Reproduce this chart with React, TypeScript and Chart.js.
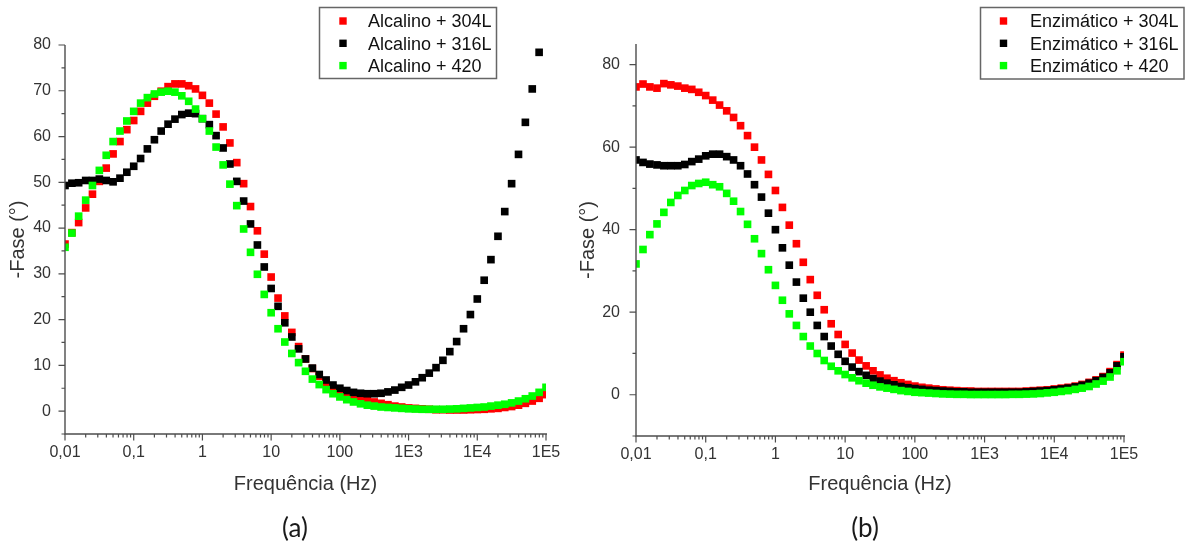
import React, { useEffect, useRef } from 'react';
import { Chart, registerables } from 'chart.js';

Chart.register(...registerables);

// ---------- data ----------
const FREQ_HZ = [
  0.01, 0.0126, 0.0158, 0.02, 0.0251, 0.0316, 0.0398, 0.0501, 0.0631, 0.0794,
  0.1, 0.126, 0.158, 0.2, 0.251, 0.316, 0.398, 0.501, 0.631, 0.794,
  1, 1.26, 1.58, 2, 2.51, 3.16, 3.98, 5.01, 6.31, 7.94,
  10, 12.6, 15.8, 20, 25.1, 31.6, 39.8, 50.1, 63.1, 79.4,
  100, 126, 158, 200, 251, 316, 398, 501, 631, 794,
  1000, 1260, 1580, 2000, 2510, 3160, 3980, 5010, 6310, 7940,
  10000, 12600, 15800, 20000, 25100, 31600, 39800, 50100, 63100, 79400,
  100000,
];

const X_TICK_VALUES = [0.01, 0.1, 1, 10, 100, 1000, 10000, 100000];
const X_TICK_LABELS = ['0,01', '0,1', '1', '10', '100', '1E3', '1E4', '1E5'];
const Y_TICKS_A = [0, 10, 20, 30, 40, 50, 60, 70, 80];
const Y_TICKS_B = [0, 20, 40, 60, 80];

// (a) Alcalino
const ALC_304L = [
  36.5, 39.0, 41.2, 44.4, 47.4, 50.2, 53.1, 56.2, 58.9, 61.5,
  63.5, 65.5, 67.3, 68.8, 69.9, 70.9, 71.5, 71.5, 71.1, 70.4,
  69.0, 67.3, 64.9, 62.1, 58.6, 54.3, 49.7, 44.7, 39.4, 34.3,
  29.3, 24.7, 20.8, 17.2, 14.1, 11.4, 9.3, 7.6, 6.2, 5.1,
  4.3, 3.7, 3.2, 2.8, 2.4, 2.0, 1.7, 1.4, 1.1, 0.9,
  0.7, 0.6, 0.5, 0.4, 0.3, 0.3, 0.25, 0.25, 0.25, 0.3,
  0.35, 0.4, 0.5, 0.6, 0.8, 1.0, 1.3, 1.7, 2.2, 2.8,
  3.6,
];
const ALC_316L = [
  49.3, 49.8, 49.9, 50.4, 50.4, 50.7, 50.4, 50.1, 50.9, 52.2,
  53.5, 55.2, 57.3, 59.3, 61.2, 62.7, 63.8, 64.8, 65.1, 65.0,
  63.9, 62.6, 60.2, 57.5, 54.0, 50.2, 45.9, 40.9, 36.3, 31.5,
  26.8, 22.9, 19.3, 16.2, 13.6, 11.4, 9.4, 8.0, 6.8, 5.7,
  5.0, 4.5, 4.1, 3.9, 3.8, 3.8, 3.9, 4.2, 4.6, 5.2,
  5.7, 6.4, 7.3, 8.3, 9.5, 11.1, 13.0, 15.2, 18.0, 21.1,
  24.5, 28.6, 33.1, 38.2, 43.6, 49.7, 56.1, 63.1, 70.4, 78.4,
  null,
];
const ALC_420 = [
  35.8, 38.9, 42.6, 46.1, 49.3, 52.6, 55.9, 58.9, 61.2, 63.4,
  65.5, 67.3, 68.5, 69.3, 69.7, 69.9, 69.7, 68.9, 67.7, 66.0,
  63.9, 61.2, 57.7, 53.8, 49.6, 44.9, 39.8, 34.7, 29.9, 25.5,
  21.5, 18.0, 15.1, 12.6, 10.6, 8.7, 7.0, 5.8, 4.7, 3.8,
  3.1, 2.5, 2.0, 1.6, 1.3, 1.1, 0.9, 0.8, 0.7, 0.6,
  0.5, 0.45, 0.4, 0.4, 0.4, 0.4, 0.45, 0.5, 0.6, 0.7,
  0.8, 0.9, 1.1, 1.3, 1.5, 1.8, 2.2, 2.7, 3.3, 4.1,
  5.2,
];

// (b) Enzimático
const ENZ_304L = [
  74.6, 75.3, 74.6, 74.3, 75.4, 75.1, 74.8, 74.3, 74.0, 73.3,
  72.5, 71.4, 70.2, 68.8, 67.2, 65.2, 62.8, 60.0, 56.9, 53.4,
  49.5, 45.4, 41.1, 36.6, 32.1, 27.9, 24.1, 20.6, 17.2, 14.6,
  12.2, 10.1, 8.4, 7.0, 5.8, 4.8, 4.0, 3.4, 2.9, 2.5,
  2.1, 1.8, 1.6, 1.4, 1.2, 1.1, 1.0, 0.9, 0.9, 0.8,
  0.8, 0.8, 0.8, 0.8, 0.8, 0.8, 0.9, 1.0, 1.1, 1.2,
  1.4, 1.6, 1.8, 2.1, 2.5, 3.0, 3.6, 4.4, 5.6, 7.3,
  9.6,
];
const ENZ_316L = [
  56.9, 56.3, 55.9, 55.7, 55.5, 55.5, 55.5, 55.8, 56.5, 57.1,
  57.9, 58.3, 58.3, 57.7, 56.9, 55.5, 53.5, 50.9, 47.9, 44.0,
  40.0, 35.6, 31.4, 27.3, 23.4, 20.0, 16.8, 14.1, 11.8, 9.8,
  8.1, 6.7, 5.6, 4.7, 3.9, 3.3, 2.8, 2.4, 2.0, 1.7,
  1.5, 1.3, 1.1, 1.0, 0.9, 0.8, 0.7, 0.7, 0.6, 0.6,
  0.6, 0.6, 0.6, 0.6, 0.6, 0.6, 0.7, 0.8, 0.9, 1.0,
  1.2, 1.4, 1.6, 1.9, 2.3, 2.8, 3.4, 4.2, 5.3, 7.0,
  9.2,
];
const ENZ_420 = [
  31.7, 35.2, 38.8, 41.4, 44.2, 46.6, 48.3, 49.5, 50.7, 51.2,
  51.5, 50.9, 50.4, 48.8, 46.9, 44.4, 41.3, 37.8, 34.2, 30.3,
  26.5, 22.9, 19.6, 16.8, 14.1, 11.8, 10.0, 8.3, 6.9, 5.8,
  4.9, 4.1, 3.4, 2.8, 2.3, 1.9, 1.6, 1.3, 1.0, 0.8,
  0.6, 0.5, 0.4, 0.3, 0.2, 0.15, 0.1, 0.1, 0.05, 0.05,
  0.05, 0.05, 0.05, 0.05, 0.1, 0.1, 0.15, 0.2, 0.3, 0.45,
  0.6, 0.8, 1.0, 1.3, 1.6, 2.0, 2.6, 3.3, 4.3, 5.8,
  8.0,
];

const LABELS_A = ['Alcalino + 304L', 'Alcalino + 316L', 'Alcalino + 420'];
const LABELS_B = ['Enzimático + 304L', 'Enzimático + 316L', 'Enzimático + 420'];
const SERIES_COLORS = ['#ff0000', '#000000', '#00ff00'];

const X_TITLE = 'Frequência (Hz)';
const Y_TITLE = '-Fase (°)';

// ---------- styling ----------
const W = 1188;
const H = 547;
const FONT = '"Liberation Sans", Arial, sans-serif';
const AXIS_COLOR = '#4d4d4d';
const TEXT_COLOR = '#333333';

type Panel = {
  series: (number | null)[][];
  labels: string[];
  yMin: number;
  yMax: number;
  yTicks: number[];
  yMinorStep: number;
  padding: { left: number; right: number; top: number; bottom: number };
  yAxisWidth: number;
  xAxisHeight: number;
  yLabelPad: number;
  legend: { x: number; y: number; w: number; h: number; markerX: number; textX: number };
  panelLabel: string;
  panelLabelX: number;
  yTitleX: number;
};

const decoPlugin = {
  id: 'deco',
  afterDraw(chart: any, _args: any, o: any) {
    const { ctx, chartArea: a } = chart;
    const xs = chart.scales.x;
    const ys = chart.scales.y;
    ctx.save();

    // axis lines
    ctx.strokeStyle = AXIS_COLOR;
    ctx.lineWidth = 1.4;
    ctx.beginPath();
    ctx.moveTo(a.left, a.top);
    ctx.lineTo(a.left, a.bottom);
    ctx.lineTo(a.right + 1, a.bottom);
    ctx.stroke();

    // tick marks
    ctx.lineWidth = 1.2;
    ctx.beginPath();
    const yTop = o.yTicks[o.yTicks.length - 1];
    for (let v = o.yMin; v <= yTop + 1e-9; v += o.yMinorStep) {
      const py = ys.getPixelForValue(v);
      const len = o.yTicks.includes(v) ? 6.5 : 3.5;
      ctx.moveTo(a.left - len, py);
      ctx.lineTo(a.left, py);
    }
    for (const d of X_TICK_VALUES) {
      for (let k = 1; k <= 9; k++) {
        const v = d * k;
        if (v > xs.max * 1.0001) break;
        const px = xs.getPixelForValue(v);
        const len = k === 1 ? 6.5 : 3.5;
        ctx.moveTo(px, a.bottom);
        ctx.lineTo(px, a.bottom + len);
      }
    }
    ctx.stroke();

    // axis titles
    ctx.fillStyle = TEXT_COLOR;
    ctx.font = `20px ${FONT}`;
    ctx.textAlign = 'center';
    ctx.textBaseline = 'alphabetic';
    ctx.fillText(X_TITLE, (a.left + a.right) / 2, 490);
    ctx.save();
    ctx.translate(o.yTitleX, (a.top + a.bottom) / 2);
    ctx.rotate(-Math.PI / 2);
    ctx.textBaseline = 'middle';
    ctx.fillText(Y_TITLE, 0, 0);
    ctx.restore();

    // panel label
    ctx.fillStyle = '#1a1a1a';
    ctx.font = `26px Lato, "Open Sans", sans-serif`;
    ctx.textBaseline = 'middle';
    ctx.fillText(o.panelLabel, o.panelLabelX, 529);

    // legend
    const L = o.legend;
    ctx.fillStyle = '#ffffff';
    ctx.fillRect(L.x, L.y, L.w, L.h);
    ctx.strokeStyle = '#666666';
    ctx.lineWidth = 1.5;
    ctx.strokeRect(L.x, L.y, L.w, L.h);
    ctx.font = `18px ${FONT}`;
    ctx.textAlign = 'left';
    ctx.textBaseline = 'alphabetic';
    o.labels.forEach((lab: string, i: number) => {
      const cy = L.y + 13.5 + i * 22.3;
      ctx.fillStyle = SERIES_COLORS[i];
      ctx.fillRect(L.markerX - 3.7, cy - 3.7, 7.4, 7.4);
      ctx.fillStyle = '#111111';
      ctx.fillText(lab, L.textX, cy + 6.3);
    });

    ctx.restore();
  },
};

function makeConfig(p: Panel): any {
  const datasets = p.series.map((vals, i) => ({
    label: p.labels[i],
    data: FREQ_HZ.map((f, j) => ({ x: f, y: vals[j] })),
    backgroundColor: SERIES_COLORS[i],
    borderColor: SERIES_COLORS[i],
    pointStyle: 'rect',
    pointRadius: 5.4,
    pointHoverRadius: 5.4,
    pointBorderWidth: 0,
    showLine: false,
    clip: 0,
    order: 3 - i,
  }));
  return {
    type: 'scatter',
    data: { datasets },
    plugins: [decoPlugin],
    options: {
      responsive: false,
      animation: false,
      events: [],
      layout: { padding: p.padding },
      plugins: {
        legend: { display: false },
        tooltip: { enabled: false },
        deco: {
          yMin: p.yMin,
          yTicks: p.yTicks,
          yMinorStep: p.yMinorStep,
          legend: p.legend,
          labels: p.labels,
          panelLabel: p.panelLabel,
          panelLabelX: p.panelLabelX,
          yTitleX: p.yTitleX,
        },
      },
      scales: {
        x: {
          type: 'logarithmic',
          min: 0.01,
          max: 100000,
          grid: { display: false, drawTicks: false },
          border: { display: false },
          afterBuildTicks: (axis: any) => {
            axis.ticks = X_TICK_VALUES.map((v) => ({ value: v }));
          },
          afterFit: (axis: any) => {
            axis.height = p.xAxisHeight;
          },
          ticks: {
            autoSkip: false,
            maxRotation: 0,
            padding: 9,
            color: TEXT_COLOR,
            font: { family: FONT, size: 16 },
            callback: (_v: any, i: number) => X_TICK_LABELS[i],
          },
        },
        y: {
          type: 'linear',
          min: p.yMin,
          max: p.yMax,
          grid: { display: false, drawTicks: false },
          border: { display: false },
          afterBuildTicks: (axis: any) => {
            axis.ticks = p.yTicks.map((v) => ({ value: v }));
          },
          afterFit: (axis: any) => {
            axis.width = p.yAxisWidth;
          },
          ticks: {
            padding: p.yLabelPad,
            color: TEXT_COLOR,
            font: { family: FONT, size: 16 },
            callback: (v: any) => String(v),
          },
        },
      },
    },
  };
}

const PANEL_A: Panel = {
  series: [ALC_304L, ALC_316L, ALC_420],
  labels: LABELS_A,
  yMin: -5,
  yMax: 80,
  yTicks: Y_TICKS_A,
  yMinorStep: 5,
  padding: { left: 0, right: W - 546, top: 45, bottom: 0 },
  yAxisWidth: 65,
  xAxisHeight: H - 434,
  yLabelPad: 14,
  legend: { x: 319.5, y: 7.5, w: 177, h: 71, markerX: 343, textX: 368 },
  panelLabel: '(a)',
  panelLabelX: 295,
  yTitleX: 18,
};

const PANEL_B: Panel = {
  series: [ENZ_304L, ENZ_316L, ENZ_420],
  labels: LABELS_B,
  yMin: -10,
  yMax: 85,
  yTicks: Y_TICKS_B,
  yMinorStep: 10,
  padding: { left: 560, right: W - 1124, top: 44, bottom: 0 },
  yAxisWidth: 76,
  xAxisHeight: H - 436,
  yLabelPad: 16,
  legend: { x: 980.5, y: 7.5, w: 203.5, h: 71.5, markerX: 1003.5, textX: 1030 },
  panelLabel: '(b)',
  panelLabelX: 865,
  yTitleX: 588,
};

function PanelChart({ panel }: { panel: Panel }) {
  const ref = useRef<HTMLCanvasElement | null>(null);
  useEffect(() => {
    if (!ref.current) return;
    const chart = new Chart(ref.current, makeConfig(panel));
    return () => chart.destroy();
  }, [panel]);
  return (
    <canvas
      ref={ref}
      width={W}
      height={H}
      style={{ position: 'absolute', left: 0, top: 0, width: W, height: H }}
    />
  );
}

export default function App() {
  return (
    <div
      style={{
        position: 'fixed',
        left: 0,
        top: 0,
        width: W,
        height: H,
        background: '#ffffff',
        overflow: 'hidden',
      }}
    >
      <PanelChart panel={PANEL_A} />
      <PanelChart panel={PANEL_B} />
    </div>
  );
}
